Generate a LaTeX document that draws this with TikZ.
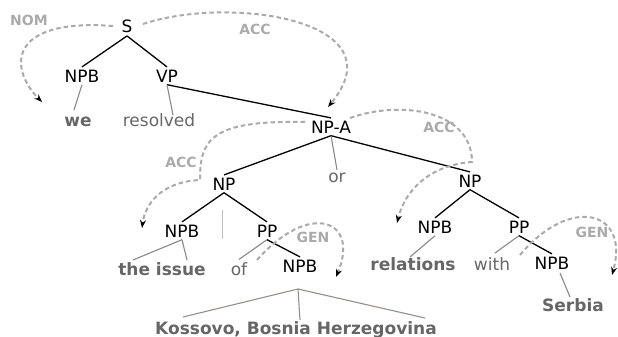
\documentclass[tikz,border=0pt]{standalone}
\usepackage{fontspec}
\setmainfont{DejaVu Sans}
\usetikzlibrary{arrows.meta}
\definecolor{dashgray}{HTML}{AAAAAA}
\definecolor{wordgray}{HTML}{666666}
\definecolor{leafgray}{HTML}{888888}
\definecolor{kosgray}{HTML}{998C8C}
\tikzset{
  cat/.style={anchor=base, inner sep=2.5pt, font=\fontsize{17}{18}\selectfont, text=black},
  wordb/.style={anchor=base, inner sep=2.5pt, font=\fontsize{17}{18}\selectfont\bfseries, text=wordgray},
  wordr/.style={anchor=base, inner sep=2.5pt, font=\fontsize{17}{18}\selectfont, text=wordgray},
  rellabel/.style={anchor=base, inner sep=1pt, font=\fontsize{14}{16}\selectfont\bfseries, text=dashgray},
  treeline/.style={line width=1.3pt, black},
  leafline/.style={line width=1.1pt, leafgray},
  kosline/.style={line width=1.1pt, kosgray},
  deparrow/.style={dashgray, line width=2pt, dash pattern=on 4.5pt off 3pt, -{Stealth[black,length=8pt,width=6pt]}}
}
\begin{document}
\begin{tikzpicture}[x=1pt,y=-1pt]
\useasboundingbox (0,0) rectangle (618,337);
% category nodes
\node[cat] (S) at (127,33) {S};
\node[cat] (npb1) at (82,82) {NPB};
\node[cat] (vp) at (167,82) {VP};
\node[cat] (npa) at (331,133) {NP-A};
\node[cat] (npL) at (224,190) {NP};
\node[cat] (npR) at (470,187) {NP};
\node[cat] (npb2) at (182,237) {NPB};
\node[cat] (ppL) at (267,237) {PP};
\node[cat] (npb3) at (300,272) {NPB};
\node[cat] (npb4) at (435,233) {NPB};
\node[cat] (ppR) at (519,233) {PP};
\node[cat] (npb5) at (552,269) {NPB};
% words
\node[wordb] (we) at (78,126) {we};
\node[wordr] (resolved) at (159,126) {resolved};
\node[wordr] (or) at (337,182) {or};
\node[wordb] (issue) at (162,275) {the issue};
\node[wordr] (of) at (239,275) {of};
\node[wordb] (relations) at (413,270) {relations};
\node[wordr] (with) at (492,270) {with};
\node[wordb] (serbia) at (573,311) {Serbia};
\node[wordb] (kos) at (296,334) {Kossovo, Bosnia Herzegovina};
% relation labels
\node[rellabel] (nom) at (29,26) {NOM};
\node[rellabel] (accT) at (255,35) {ACC};
\node[rellabel] (accR) at (439,132) {ACC};
\node[rellabel] (accL) at (181,167) {ACC};
\node[rellabel] (genL) at (313,242) {GEN};
\node[rellabel] (genR) at (592,237) {GEN};
% tree edges
\draw[treeline] (S.south) -- (npb1.north);
\draw[treeline] (S.south) -- (vp.north);
\draw[treeline] (vp.south) -- (npa.north);
\draw[treeline] (npa.south) -- (npL.north);
\draw[treeline] (npa.south) -- (npR.north);
\draw[treeline] (npL.south) -- (npb2.north);
\draw[treeline] (npL.south) -- (ppL.north);
\draw[treeline] (ppL.south) -- (npb3.north);
\draw[treeline] (npR.south) -- (npb4.north);
\draw[treeline] (npR.south) -- (ppR.north);
\draw[treeline] (ppR.south) -- (npb5.north);
% leaf edges
\coordinate (weT) at (74,110);
\coordinate (resT) at (173,115);
\coordinate (theT) at (133,260);
\coordinate (issT) at (187,260);
\coordinate (relT) at (410,257);
\coordinate (withT) at (495,253);
\coordinate (serbT) at (570,297);
\coordinate (serbB) at (560,273);
\coordinate (vbarT) at (222,210);
\coordinate (vbarB) at (222,239);
\coordinate (kapex) at (298,289);
\coordinate (kosA) at (183,317);
\coordinate (kosB) at (300,320);
\coordinate (kosC) at (425,318);
\draw[leafline] (npb1.south) -- (weT);
\draw[leafline] (vp.south) -- (resT);
\draw[leafline] (npa.south) -- (or.north);
\draw[leafline] (npb2.south) -- (theT);
\draw[leafline] (npb2.south) -- (issT);
\draw[leafline, line width=1pt, black!25] (vbarT) -- (vbarB);
\draw[leafline] (ppL.south) -- (of.north);
\draw[leafline] (npb4.south) -- (relT);
\draw[leafline] (ppR.south) -- (withT);
\draw[leafline] (serbB) -- (serbT);
\draw[kosline] (kapex) -- (kosA);
\draw[kosline] (kapex) -- (kosB);
\draw[kosline] (kapex) -- (kosC);
% dependency arrows
\coordinate (nomS) at (113,26);
\coordinate (nomE) at (42,102);
\coordinate (accTS) at (143,24);
\coordinate (accTE) at (328,107);
\coordinate (accLS) at (305,122);
\coordinate (accLM) at (200,180);
\coordinate (accLE) at (142,228);
\coordinate (accRS) at (350,118);
\coordinate (accRM) at (472,162);
\coordinate (accRE) at (397,223);
\coordinate (genLS) at (257,260);
\coordinate (genLE) at (336,277);
\coordinate (genRS) at (520,255);
\coordinate (genRE) at (612,275);
\draw[deparrow] (nomS) .. controls (5,18) and (10,70) .. (nomE);
\draw[deparrow] (accTS) .. controls (230,-5) and (400,20) .. (accTE);
\draw[deparrow] (accLS) .. controls (210,120) and (200,140) .. (accLM) .. controls (160,182) and (145,205) .. (accLE);
\draw[deparrow] (accRS) .. controls (400,100) and (472,110) .. (accRM) .. controls (430,165) and (405,190) .. (accRE);
\draw[deparrow] (genLS) .. controls (310,200) and (360,220) .. (genLE);
\draw[deparrow] (genRS) .. controls (570,195) and (630,210) .. (genRE);
\end{tikzpicture}
\end{document}
